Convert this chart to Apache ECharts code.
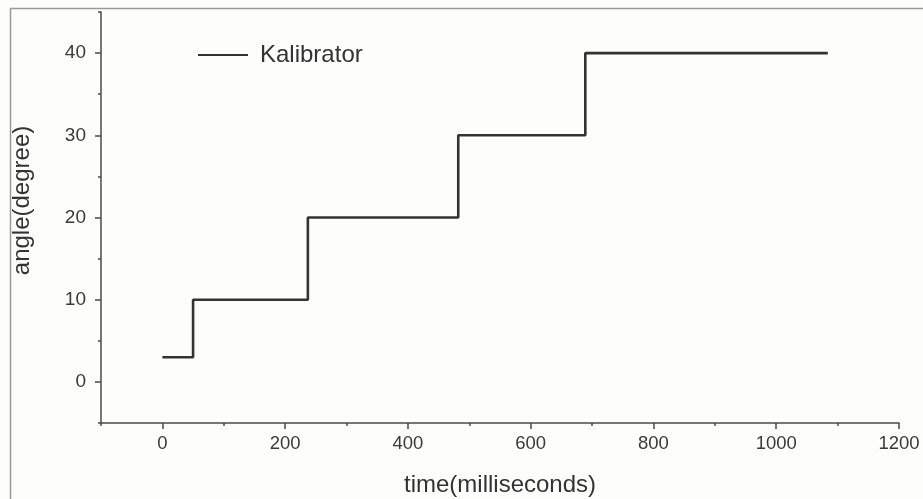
<!DOCTYPE html>
<html>
<head>
<meta charset="utf-8">
<script src="https://cdn.jsdelivr.net/npm/echarts@6/dist/echarts.min.js"></script>
<style>
html, body { margin: 0; padding: 0; background: #fdfdfb; }
#chart { width: 923px; height: 499px; }
</style>
</head>
<body>
<div id="chart"></div>
<script>
// data
var timeMs = [0, 50, 237, 482, 689, 1084];
var angleDeg = [3, 10, 20, 30, 40, 40];
var xMajorTicks = [0, 200, 400, 600, 800, 1000, 1200];
var yMajorTicks = [0, 10, 20, 30, 40];
var seriesName = 'Kalibrator';

var myChart = echarts.init(document.getElementById('chart'));

var lineData = [];
for (var i = 0; i < timeMs.length; i++) {
    lineData.push([timeMs[i], angleDeg[i]]);
}

var axisColor = '#4a4a4a';
var fontFam = 'Liberation Sans, Arial, sans-serif';
function plain(v) { return String(v); }

var option = {
    backgroundColor: '#fdfdfb',
    animation: false,
    grid: {
        left: 101,
        right: 24,
        top: 12,
        bottom: 76,
        outerBoundsMode: 'none',
        containLabel: false
    },
    legend: {
        left: 193,
        top: 38,
        icon: 'rect',
        itemWidth: 50,
        itemHeight: 2,
        textStyle: { color: '#333', fontSize: 24, fontFamily: fontFam, padding: [0, 0, 0, 7] },
        data: [seriesName]
    },
    xAxis: [
        {
            type: 'value',
            position: 'bottom',
            min: -100,
            max: 1200,
            interval: 100,
            name: 'time(milliseconds)',
            nameLocation: 'middle',
            nameGap: 50,
            nameTextStyle: { color: '#333', fontSize: 24, fontFamily: fontFam },
            axisLine: { onZero: false, lineStyle: { color: axisColor, width: 1.5 } },
            axisTick: { customValues: xMajorTicks, length: 6, lineStyle: { color: axisColor, width: 1.5 } },
            axisLabel: { customValues: xMajorTicks, margin: 11, formatter: plain, color: '#3a3a3a', fontSize: 18.5, fontFamily: fontFam },
            splitLine: { show: false }
        },
        {
            // minor ticks
            type: 'value',
            position: 'bottom',
            min: -100,
            max: 1200,
            interval: 100,
            axisLine: { show: false, onZero: false },
            axisTick: { length: 3, lineStyle: { color: axisColor, width: 1.5 } },
            axisLabel: { show: false },
            splitLine: { show: false }
        }
    ],
    yAxis: [
        {
            type: 'value',
            position: 'left',
            min: -5,
            max: 45,
            interval: 5,
            name: 'angle(degree)',
            nameLocation: 'middle',
            nameGap: 67,
            nameTextStyle: { color: '#333', fontSize: 24, fontFamily: fontFam, padding: [0, 0, 0, 34] },
            axisLine: { show: true, onZero: false, lineStyle: { color: axisColor, width: 1.5 } },
            axisTick: { show: true, customValues: yMajorTicks, length: 6, lineStyle: { color: axisColor, width: 1.5 } },
            axisLabel: { customValues: yMajorTicks, margin: 15, formatter: plain, color: '#3a3a3a', fontSize: 19, fontFamily: fontFam },
            splitLine: { show: false }
        },
        {
            type: 'value',
            position: 'left',
            min: -5,
            max: 45,
            interval: 5,
            axisLine: { show: false, onZero: false },
            axisTick: { show: true, length: 3, lineStyle: { color: axisColor, width: 1.5 } },
            axisLabel: { show: false },
            splitLine: { show: false }
        }
    ],
    graphic: [
        {
            type: 'rect',
            silent: true,
            shape: { x: 10.5, y: 8.5, width: 1000, height: 600 },
            style: { fill: 'none', stroke: '#9a9a9a', lineWidth: 1.5 }
        }
    ],
    series: [
        {
            name: seriesName,
            type: 'line',
            step: 'end',
            showSymbol: false,
            symbol: 'none',
            color: '#333333',
            lineStyle: { color: '#333333', width: 2.6 },
            data: lineData
        }
    ]
};

myChart.setOption(option);
</script>
</body>
</html>
